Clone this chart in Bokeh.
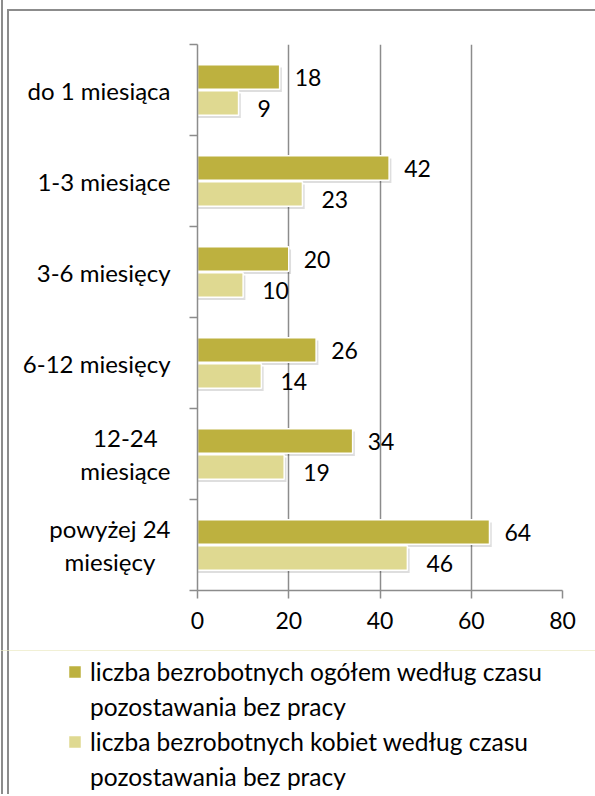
from bokeh.plotting import figure
from bokeh.layouts import column, row
from bokeh.models import (Range1d, FixedTicker, ColumnDataSource, Legend, LegendItem)
from bokeh.core.properties import value
from bokeh.embed import file_html
from bokeh.resources import INLINE

categories = ["do 1 miesiąca", "1-3 miesiące", "3-6 miesięcy", "6-12 miesięcy",
              "12-24\nmiesiące", "powyżej 24\nmiesięcy"]
ogolem = [18, 42, 20, 26, 34, 64]
kobiety = [9, 23, 10, 14, 19, 46]
series_names = [["liczba bezrobotnych ogółem według czasu", "pozostawania bez pracy"],
                ["liczba bezrobotnych kobiet według czasu", "pozostawania bez pracy"]]
x_ticks = [0, 20, 40, 60, 80]

FONT = "Lato"
FS = "23px"
FS_T = "24px"
FS_L = "24.5px"
DARK = "#BDB13F"
LIGHT = "#DFD991"
GRID = "#8c8c8c"

n = len(categories)
centers = [n - i - 0.5 for i in range(n)]
bounds = list(range(n + 1))
off = 0.143
hh = 0.268

src = ColumnDataSource(dict(
    y1=[c + off for c in centers], y2=[c - off for c in centers],
    s1=[c + off - 0.03 for c in centers], s2=[c - off - 0.03 for c in centers],
    og=ogolem, kb=kobiety,
    ogs=[v + 0.5 for v in ogolem], kbs=[v + 0.5 for v in kobiety],
    ogt=[str(v) for v in ogolem], kbt=[str(v) for v in kobiety],
))

# ---- main plot ----
p = figure(frame_width=365, frame_height=546, output_backend="svg", toolbar_location=None,
           x_range=Range1d(0, 80), y_range=Range1d(0, n),
           min_border_left=10, min_border_right=33, min_border_top=44,
           min_border_bottom=60)
p.outline_line_color = None
p.background_fill_color = "white"
p.border_fill_alpha = 0

p.hbar(y="s1", left=0, right="ogs", height=hh, source=src, fill_color="black",
       fill_alpha=0.13, line_color=None)
p.hbar(y="s2", left=0, right="kbs", height=hh, source=src, fill_color="black",
       fill_alpha=0.13, line_color=None)
p.hbar(y="y1", left=0, right="og", height=hh, source=src, fill_color=DARK,
       line_color="white", line_width=1.5)
p.hbar(y="y2", left=0, right="kb", height=hh, source=src, fill_color=LIGHT,
       line_color="white", line_width=1.5)

p.text(x="og", y="y1", text="ogt", source=src, x_offset=15, y_offset=1,
       text_baseline="middle", text_align="left", text_font=value(FONT),
       text_font_size=FS, text_color="black")
p.text(x="kb", y="y2", text="kbt", source=src, x_offset=19, y_offset=5,
       text_baseline="middle", text_align="left", text_font=value(FONT),
       text_font_size=FS, text_color="black")

p.xaxis.ticker = FixedTicker(ticks=x_ticks)
p.xaxis.axis_line_color = GRID
p.xaxis.axis_line_width = 1.5
p.xaxis.major_tick_line_color = GRID
p.xaxis.major_tick_line_width = 1.5
p.xaxis.major_tick_out = 8
p.xaxis.major_tick_in = 0
p.xaxis.minor_tick_line_color = None
p.xaxis.major_label_text_font = FONT
p.xaxis.major_label_text_font_size = FS
p.xaxis.major_label_text_color = "black"
p.xaxis.major_label_standoff = 13

p.yaxis.ticker = FixedTicker(ticks=centers, minor_ticks=bounds)
p.yaxis.major_label_overrides = {c: "" for c in centers}
p.yaxis.axis_line_color = GRID
p.yaxis.axis_line_width = 1.5
p.yaxis.major_tick_out = 0
p.yaxis.major_tick_in = 0
p.yaxis.major_tick_line_color = None
p.yaxis.minor_tick_line_color = GRID
p.yaxis.minor_tick_line_width = 1.5
p.yaxis.minor_tick_out = 8
p.yaxis.minor_tick_in = 0
p.yaxis.major_label_standoff = 0
p.yaxis.major_label_text_font_size = "1px"

p.xgrid.ticker = FixedTicker(ticks=x_ticks)
p.xgrid.grid_line_color = GRID
p.xgrid.grid_line_width = 1.5
p.ygrid.grid_line_color = None

# ---- category labels (left strip sharing the y range) ----
pl = figure(frame_width=187, frame_height=546, output_backend="svg", toolbar_location=None,
            x_range=Range1d(0, 187), y_range=p.y_range,
            x_axis_location=None, y_axis_location=None,
            min_border_left=0, min_border_right=0, min_border_top=44,
            min_border_bottom=60)
pl.outline_line_color = None
pl.background_fill_alpha = 0
pl.border_fill_alpha = 0
pl.grid.visible = False
pl.text(x=170, y=centers, text=categories, text_align="center", anchor="center_right",
        text_baseline="middle", text_font=value(FONT), text_font_size=FS_T,
        text_color="black", text_line_height=1.15)

# ---- legend strip ----
pg = figure(frame_width=595, frame_height=144, output_backend="svg", toolbar_location=None,
            x_range=Range1d(0, 1), y_range=Range1d(0, 1),
            x_axis_location=None, y_axis_location=None, min_border=0)
pg.outline_line_color = None
pg.background_fill_alpha = 0
pg.border_fill_alpha = 0
pg.grid.visible = False
# legend keys (single points kept outside the visible range of this strip)
g1 = pg.hbar(y=[5], left=[0], right=[1], height=1, fill_color=DARK, line_color="white",
             line_width=0.5)
g2 = pg.hbar(y=[5], left=[0], right=[1], height=1, fill_color=LIGHT, line_color="white",
             line_width=0.5)
blank = pg.hbar(y=[5], left=[0], right=[1], height=1, fill_alpha=0, line_alpha=0)

items = [LegendItem(label=series_names[0][0], renderers=[g1]),
         LegendItem(label=series_names[0][1], renderers=[blank]),
         LegendItem(label=series_names[1][0], renderers=[g2]),
         LegendItem(label=series_names[1][1], renderers=[blank])]
legend = Legend(items=items, location=(67, 2), orientation="vertical")
legend.label_text_font = FONT
legend.label_text_font_size = FS_L
legend.label_text_color = "black"
legend.label_height = 32
legend.glyph_width = 15
legend.glyph_height = 15
legend.border_line_color = None
legend.background_fill_alpha = 0
legend.margin = 0
legend.padding = 0
legend.spacing = 3
legend.label_standoff = 8
pg.add_layout(legend, "center")

layout = column(row(pl, p), pg)
layout.styles = {
    "background-color": "white",
    "background-image": "linear-gradient(#8c8c8c,#8c8c8c), linear-gradient(#8c8c8c,#8c8c8c), linear-gradient(#8c8c8c,#8c8c8c)",
    "background-size": "2px 100%, 2px calc(100% - 9px), calc(100% - 7px) 2px",
    "background-position": "1px 0px, 7px 9px, 7px 9px",
    "background-repeat": "no-repeat, no-repeat, no-repeat",
}

open("out.html", "w").write(file_html(layout, INLINE))
